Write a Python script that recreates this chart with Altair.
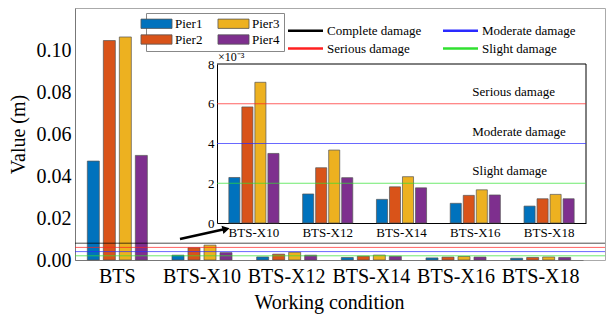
import altair as alt
import pandas as pd

# ---- data -------------------------------------------------------------
conditions = ["BTS", "BTS-X10", "BTS-X12", "BTS-X14", "BTS-X16", "BTS-X18"]
piers = ["Pier1", "Pier2", "Pier3", "Pier4"]
pier1 = [0.0471, 0.00229, 0.00146, 0.00119, 0.00099, 0.00085]
pier2 = [0.1045, 0.00584, 0.00278, 0.00182, 0.00139, 0.00122]
pier3 = [0.1062, 0.00708, 0.00367, 0.00233, 0.00167, 0.00144]
pier4 = [0.0498, 0.00350, 0.00228, 0.00177, 0.00141, 0.00122]

levels = ["Complete damage", "Serious damage", "Moderate damage", "Slight damage"]
thresholds = [0.008, 0.006, 0.004, 0.002]
level_colors = ["#000000", "#ff2020", "#2a2aff", "#30e030"]

pier_colors = ["#0072BD", "#D95319", "#EDB120", "#7E2F8E"]

# ---- layout (pixels) --------------------------------------------------
W, H = 530, 252
MAIN_BAND_END = 508
IN_X0, IN_X1 = 142, 511      # inset frame, plot coordinates
IN_Y0, IN_Y1 = 56, 215
FONT = "Liberation Serif"

rows = []
for vals, p in zip([pier1, pier2, pier3, pier4], piers):
    for c, v in zip(conditions, vals):
        rows.append({"condition": c, "pier": p, "value": v})
bars_df = pd.DataFrame(rows)
levels_df = pd.DataFrame({"level": levels, "value": thresholds})

fill_scale = alt.Scale(domain=piers, range=pier_colors)
stroke_scale = alt.Scale(domain=levels, range=level_colors)

# wide swatch / line paths drawn around a small nominal symbol size,
# so that the legend rows stay compact
fill_legend = alt.Legend(
    title=None, orient="none", legendX=71, legendY=5, columns=2,
    symbolType="M-3,-0.9H3V0.9H-3Z", symbolSize=107, symbolStrokeColor="#555",
    symbolStrokeWidth=0.8, symbolOpacity=1, labelFont=FONT, labelFontSize=13,
    labelOffset=12, columnPadding=13, rowPadding=2, padding=4,
    strokeColor="#888", fillColor="white", labelColor="black")
stroke_legend = alt.Legend(
    title=None, orient="none", legendX=223, legendY=15, columns=2,
    symbolType="M-3,0H3", symbolSize=136, symbolStrokeWidth=2.5, symbolOpacity=1,
    labelFont=FONT, labelFontSize=13, labelOffset=14, columnPadding=16,
    rowPadding=3, padding=0, labelColor="black")

# ---- main chart -------------------------------------------------------
main_x = alt.X("condition:N", sort=conditions,
               scale=alt.Scale(domain=conditions, range=[0, MAIN_BAND_END],
                               paddingInner=0, paddingOuter=0),
               axis=alt.Axis(title="Working condition", labelAngle=0,
                             labelFontSize=20, titleFontSize=20, ticks=False,
                             labelPadding=6, titlePadding=6))
main_y = alt.Y("value:Q", scale=alt.Scale(domain=[0, 0.12], nice=False),
               axis=alt.Axis(title="Value (m)", values=[0, 0.02, 0.04, 0.06, 0.08, 0.10],
                             format=".2f", labelFontSize=20, titleFontSize=20,
                             ticks=False, labelPadding=4, titlePadding=8))

main_bars = alt.Chart(bars_df).mark_bar(stroke="#555", strokeWidth=0.7).encode(
    x=main_x,
    xOffset=alt.XOffset("pier:N", sort=piers,
                        scale=alt.Scale(paddingInner=0.25, paddingOuter=0.77)),
    y=main_y,
    fill=alt.Fill("pier:N", scale=fill_scale, legend=fill_legend),
)
main_rules = alt.Chart(levels_df).mark_rule(strokeWidth=1, opacity=0.7).encode(
    y=alt.Y("value:Q"),
    stroke=alt.Stroke("level:N", scale=stroke_scale, legend=stroke_legend),
)
arrow_line = alt.Chart(alt.Data(values=[{}])).mark_rule(
    color="black", strokeWidth=2.5).encode(
    x=alt.value(105), y=alt.value(231), x2=alt.value(148), y2=alt.value(221.5))
arrow_head = alt.Chart(alt.Data(values=[{}])).mark_point(
    shape="triangle-right", filled=True, color="black", size=70, angle=347,
    opacity=1).encode(x=alt.value(151), y=alt.value(221))
# right-hand border of the inset panel
inset_right = alt.Chart(alt.Data(values=[{}])).mark_rule(
    color="black", strokeWidth=1).encode(
    x=alt.value(IN_X1), x2=alt.value(IN_X1), y=alt.value(IN_Y0), y2=alt.value(IN_Y1))

main_layer = alt.layer(main_bars, main_rules, arrow_line, arrow_head, inset_right)

# ---- inset ------------------------------------------------------------
inset_conditions = conditions[1:]
in_x = alt.X("condition:N", sort=inset_conditions,
             scale=alt.Scale(domain=inset_conditions, range=[IN_X0, IN_X1],
                             paddingInner=0, paddingOuter=0),
             axis=alt.Axis(title=None, orient="bottom", offset=IN_Y1 - H,
                           labelAngle=0, labelFontSize=13, ticks=False,
                           labelPadding=3, domainColor="black", domainWidth=1))
in_y = alt.Y("value:Q",
             scale=alt.Scale(domain=[0, 0.008], range=[IN_Y1, IN_Y0], nice=False),
             axis=alt.Axis(title=None, orient="left", offset=-IN_X0,
                           values=[0, 0.002, 0.004, 0.006, 0.008],
                           labelExpr="format(datum.value * 1000, '.0f')",
                           labelFontSize=13, ticks=False, labelPadding=3,
                           domainColor="black", domainWidth=1))

inset_bars = alt.Chart(bars_df).transform_filter(
    alt.datum.condition != "BTS").mark_bar(stroke="#555", strokeWidth=0.7).encode(
    x=in_x,
    xOffset=alt.XOffset("pier:N", sort=piers,
                        scale=alt.Scale(paddingInner=0.15, paddingOuter=0.91)),
    y=in_y,
    fill=alt.Fill("pier:N", scale=fill_scale, legend=fill_legend),
)
# threshold lines inside the inset (the complete-damage one is the top edge)
inset_rules = alt.Chart(levels_df).mark_rule(strokeWidth=1).encode(
    x=alt.value(IN_X0), x2=alt.value(IN_X1),
    y=alt.Y("value:Q"),
    stroke=alt.Stroke("level:N", scale=stroke_scale, legend=stroke_legend),
    opacity=alt.condition(alt.datum.level == "Complete damage",
                          alt.value(1), alt.value(0.7)),
)
inset_labels = alt.Chart(levels_df).transform_filter(
    alt.datum.level != "Complete damage").mark_text(
    font=FONT, fontSize=13, align="left", baseline="middle", dx=-3, dy=-12,
    color="black").encode(
    x=alt.X(datum="BTS-X16"),
    y=alt.Y("value:Q"),
    text="level:N",
)
exp_label = alt.Chart(alt.Data(values=[{}])).mark_text(
    font=FONT, fontSize=12, align="left", baseline="middle", color="black",
    text="×10⁻³").encode(x=alt.value(IN_X0 + 1), y=alt.value(IN_Y0 - 7))

inset_layer = alt.layer(inset_bars, inset_rules, inset_labels, exp_label)

chart = alt.layer(main_layer, inset_layer).resolve_scale(
    x="independent", y="independent", xOffset="independent"
).resolve_axis(x="independent", y="independent").properties(
    width=W, height=H,
    padding={"left": 75, "top": 8, "right": 3, "bottom": 60},
    autosize=alt.AutoSizeParams(type="none"),
    background="white",
).configure_view(stroke="#aaa", strokeWidth=1).configure_axis(
    labelFont=FONT, titleFont=FONT, labelColor="black", titleColor="black",
    titleFontWeight="normal", grid=False, domainColor="#777",
).configure_text(font=FONT)

chart.save("out.html", embed_options={"renderer": "svg", "actions": False})
